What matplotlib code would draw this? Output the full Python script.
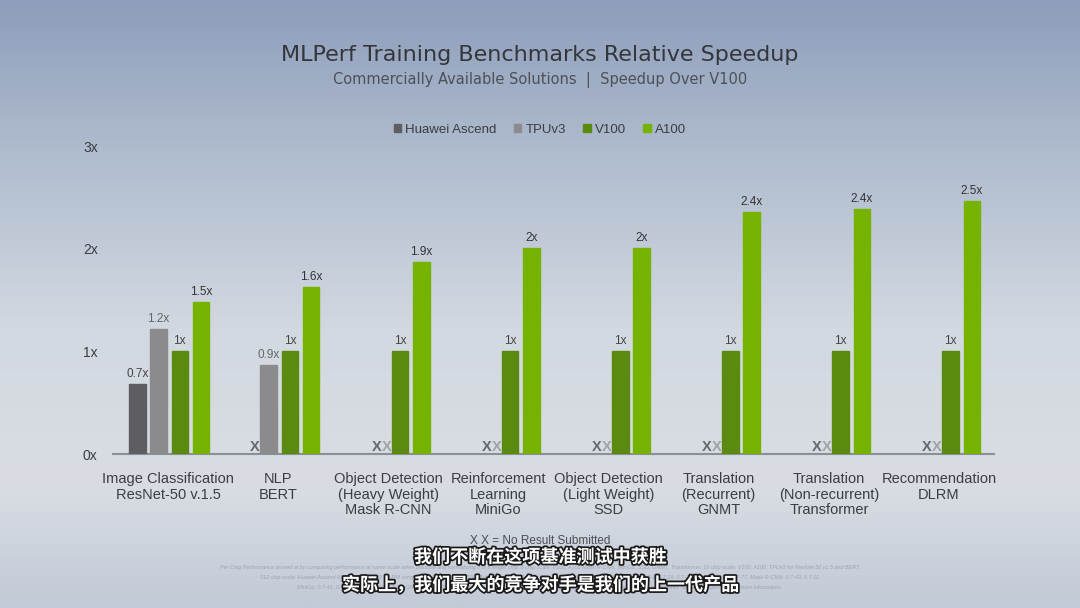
import matplotlib
matplotlib.use("Agg")
import matplotlib.pyplot as plt
from matplotlib.colors import LinearSegmentedColormap
from matplotlib.patches import Patch
import matplotlib.patheffects as pe
import numpy as np

# data
categories = [
    "Image Classification\nResNet-50 v.1.5",
    "NLP\nBERT",
    "Object Detection\n(Heavy Weight)\nMask R-CNN",
    "Reinforcement\nLearning\nMiniGo",
    "Object Detection\n(Light Weight)\nSSD",
    "Translation\n(Recurrent)\nGNMT",
    "Translation\n(Non-recurrent)\nTransformer",
    "Recommendation\nDLRM",
]
series = ["Huawei Ascend", "TPUv3", "V100", "A100"]
huawei = [0.68, None, None, None, None, None, None, None]
tpu = [1.22, 0.87, None, None, None, None, None, None]
v100 = [1.0, 1.0, 1.0, 1.0, 1.0, 1.0, 1.0, 1.0]
a100 = [1.48, 1.63, 1.87, 2.01, 2.01, 2.36, 2.39, 2.46]
huawei_lbl = ["0.7x", "", "", "", "", "", "", ""]
tpu_lbl = ["1.2x", "0.9x", "", "", "", "", "", ""]
v100_lbl = ["1x"] * 8
a100_lbl = ["1.5x", "1.6x", "1.9x", "2x", "2x", "2.4x", "2.4x", "2.5x"]
yticks = [0, 1, 2, 3]
ytick_labels = ["0x", "1x", "2x", "3x"]

colors = ["#5e5e62", "#8b8b8d", "#5b8a10", "#76b300"]
x_colors = ["#66686c", "#a0a2a6"]

COND = ["Liberation Sans", "DejaVu Sans"]

fig = plt.figure(figsize=(10.8, 6.08), dpi=100)

# background gradient
bg = fig.add_axes([0, 0, 1, 1], zorder=-10)
cmap = LinearSegmentedColormap.from_list(
    "bg", [(0.0, "#8e9dbb"), (0.25, "#afbcce"), (0.55, "#d3d9e1"),
           (0.8, "#d9dde3"), (1.0, "#c2cad7")])
grad = np.linspace(0, 1, 256).reshape(-1, 1)
bg.imshow(grad, aspect="auto", cmap=cmap, extent=[0, 1, 0, 1], origin="upper")
bg.axis("off")

ax = fig.add_axes([113 / 1080, 1 - 454 / 608, (994 - 113) / 1080, 308 / 608])
ax.patch.set_alpha(0)

x = np.arange(len(categories))
pitch = 0.193
width = 0.15
offsets = [-1.5 * pitch, -0.5 * pitch, 0.5 * pitch, 1.5 * pitch]
vals = [huawei, tpu, v100, a100]
lbls = [huawei_lbl, tpu_lbl, v100_lbl, a100_lbl]
lbl_colors = ["#444444", "#666666", "#444444", "#333333"]

for s in range(4):
    for i in range(len(categories)):
        v = vals[s][i]
        if v is None:
            continue
        xi = x[i] + offsets[s] + 0.01
        ax.bar(xi, v, width=width, color=colors[s], edgecolor=colors[s], zorder=3)
        ax.text(xi, v + 0.04, lbls[s][i], ha="center", va="bottom",
                fontsize=8.5, color=lbl_colors[s], family=COND)

# "X" marks for missing results, placed just left of the first bar
for i in range(len(categories)):
    missing = [s for s in range(2) if vals[s][i] is None]
    if not missing:
        continue
    first_bar = 2 if len(missing) == 2 else 1
    left_edge = x[i] + offsets[first_bar] + 0.01 - width / 2
    for k, s in enumerate(reversed(missing)):
        ax.text(left_edge - 0.05 - k * 0.088, 0.0, "X", ha="center", va="bottom",
                fontsize=10.5, fontweight="bold", color=x_colors[s], family=COND)

ax.set_xlim(-0.5, 7.5)
ax.set_ylim(0, 3)
ax.set_yticks(yticks)
ax.set_yticklabels(ytick_labels, fontsize=10, color="#3a3d42", family=COND)
ax.tick_params(axis="y", length=0, pad=11)
ax.set_xticks(x)
ax.set_xticklabels(categories, fontsize=10.5, color="#3a3d42", family=COND,
                   linespacing=1.15)
ax.tick_params(axis="x", length=0, pad=13)
for sp in ["top", "right", "left"]:
    ax.spines[sp].set_visible(False)
ax.spines["bottom"].set_color("#8a9098")
ax.spines["bottom"].set_linewidth(1.5)

# title and subtitle
fig.text(0.5, 1 - 55 / 608, "MLPerf Training Benchmarks Relative Speedup",
         ha="center", va="center", fontsize=16, color="#33373c")
fig.text(0.5, 1 - 80 / 608, "Commercially Available Solutions  |  Speedup Over V100",
         ha="center", va="center", fontsize=10.5, color="#4c5158")

# legend
handles = [Patch(facecolor=c, edgecolor=c) for c in colors]
fig.legend(handles, series, loc="center", bbox_to_anchor=(0.5, 1 - 130 / 608),
           ncol=4, frameon=False, handlelength=0.55, handleheight=0.55,
           handletextpad=0.35, columnspacing=1.3,
           prop={"family": COND, "size": 9.5}, labelcolor="#3a3d42")

# footer
fig.text(0.5, 1 - 541 / 608, "X X = No Result Submitted", ha="center", va="center",
         fontsize=8.5, color="#4a4e54", family=COND)
foot = [
    "Per Chip Performance arrived at by comparing performance at same scale when possible and normalizing it to a single chip. 8 chip scale: V100, A100 Mask R-CNN, MiniGo, SSD, GNMT, Transformer. 16 chip scale: V100, A100, TPUv3 for ResNet-50 v1.5 and BERT.",
    "512 chip scale: Huawei Ascend 910 for ResNet-50. DLRM compared 8 A100 and 16 V100. Submission IDs: ResNet-50 v1.5: 0.7-1, 0.7-2, 0.7-3, 0.7-19, BERT: 0.7-1, 0.7-19, 0.7-20, 0.7-40, 0.7-43, 0.7-77, Mask R-CNN: 0.7-43, 0.7-11,",
    "MiniGo: 0.7-41, 0.7-20, SSD: 0.7-40, 0.7-20, GNMT: 0.7-40, 0.7-20, Transformer: 0.7-40, 0.7-20, DLRM: 0.7-43, 0.7-11. MLPerf name and logo are trademarks. See www.mlperf.org for more information.",
]
for k, line in enumerate(foot):
    fig.text(0.5, 1 - (568 + k * 9.5) / 608, line, ha="center", va="center",
             fontsize=4, style="italic", color="#9ea4ad", family=COND)

# Chinese captions
stroke = [pe.withStroke(linewidth=2.5, foreground="#1a1a1a")]
fig.text(0.5, 1 - 557 / 608, "我们不断在这项基准测试中获胜", ha="center", va="center",
         fontsize=13, fontweight="bold", color="white",
         family=["Noto Sans CJK SC", "DejaVu Sans"], path_effects=stroke)
fig.text(0.5, 1 - 585 / 608, "实际上，我们最大的竞争对手是我们的上一代产品", ha="center",
         va="center", fontsize=13, fontweight="bold", color="white",
         family=["Noto Sans CJK SC", "DejaVu Sans"], path_effects=stroke)

fig.savefig("out.png", dpi=100)
